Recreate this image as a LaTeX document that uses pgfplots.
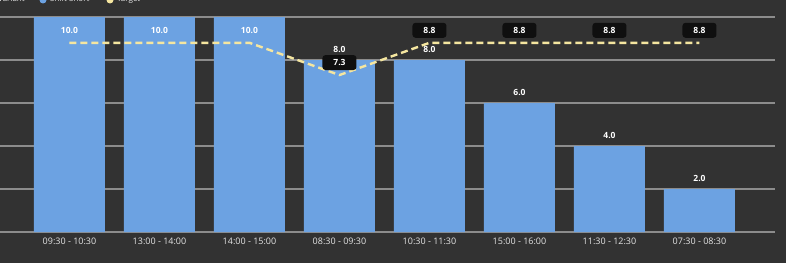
\documentclass[border=0pt]{standalone}
\usepackage{pgfplots}
\pgfplotsset{compat=1.18}
\usepackage{pgfplotstable}
\usetikzlibrary{backgrounds}
\usepackage{fontspec}
\setmainfont{Open Sans}
\definecolor{bg}{RGB}{50,50,50}
\definecolor{barblue}{RGB}{108,162,226}
\definecolor{gridc}{RGB}{140,140,140}
\definecolor{tgt}{RGB}{245,230,160}
\definecolor{lblbox}{RGB}{15,15,15}
\definecolor{ticktext}{RGB}{228,228,228}

\pgfplotstableread{
x y off
0 10 -13.7
1 10 -13.7
2 10 -13.7
3 8 11
4 8 11
5 6 11
6 4 11
7 2 11
}\shiftdata
\pgfplotstableread{
x y
0 8.8
1 8.8
2 8.8
3 7.3
4 8.8
5 8.8
6 8.8
7 8.8
}\targetdata

\begin{document}
\begin{tikzpicture}
\begin{axis}[
  name=ax,
  scale only axis, width=775pt, height=215pt,
  xmin=-0.772, xmax=7.839, ymin=0, ymax=10,
  axis line style={draw=none},
  major tick length=0pt,
  xtick={0,1,2,3,4,5,6,7},
  xticklabels={09:30 - 10:30, 13:00 - 14:00, 14:00 - 15:00, 08:30 - 09:30, 10:30 - 11:30, 15:00 - 16:00, 11:30 - 12:30, 07:30 - 08:30},
  x tick label style={font=\fontsize{9}{10}\selectfont, text=ticktext, yshift=-2.5pt},
  ytick={0,2,4,6,8,10}, yticklabels={},
  ymajorgrids, grid style={gridc, line width=1.1pt},
  /pgf/number format/.cd, fixed, zerofill, precision=1, assume math mode=true,
]
\addplot[ybar, bar width=71pt, fill=barblue, draw=none,
  nodes near coords, point meta=y,
  visualization depends on={\thisrow{off} \as \off},
  every node near coord/.append style={anchor=center, yshift=\off pt, text=white, font=\fontsize{8.5}{9}\selectfont\bfseries}]
  table[x=x, y=y] {\shiftdata};
\addplot[tgt, line width=2.4pt, dash pattern=on 7pt off 4pt, mark=none] table[x=x, y=y] {\targetdata};
\addplot[draw=none, mark=none, nodes near coords, point meta=y,
  every node near coord/.append style={anchor=center, yshift=12.5pt, fill=lblbox, rounded corners=3pt, text=white, minimum width=34pt, minimum height=15pt, inner sep=1pt, font=\fontsize{8.5}{9}\selectfont\bfseries}]
  coordinates {(3,7.3) (4,8.8) (5,8.8) (6,8.8) (7,8.8)};
\end{axis}
\coordinate (O) at ([yshift=-31pt]ax.south west);
\begin{scope}[shift={(O)}, x=1pt, y=1pt]
\node[anchor=base west, font=\fontsize{8}{9}\selectfont, text=ticktext, inner sep=0pt] at (-2,261.5) {Variant};
\fill[barblue] (43,263) circle (3.5);
\node[anchor=base west, font=\fontsize{8}{9}\selectfont, text=ticktext, inner sep=0pt] at (50,261.5) {Shift Short};
\fill[tgt] (110,263) circle (3.5);
\node[anchor=base west, font=\fontsize{8}{9}\selectfont, text=ticktext, inner sep=0pt] at (117,261.5) {Target};
\end{scope}
\begin{scope}[on background layer]
\fill[bg] (O) rectangle ++(786pt,263pt);
\end{scope}
\pgfresetboundingbox
\useasboundingbox (O) rectangle ++(786pt,263pt);
\end{tikzpicture}
\end{document}
